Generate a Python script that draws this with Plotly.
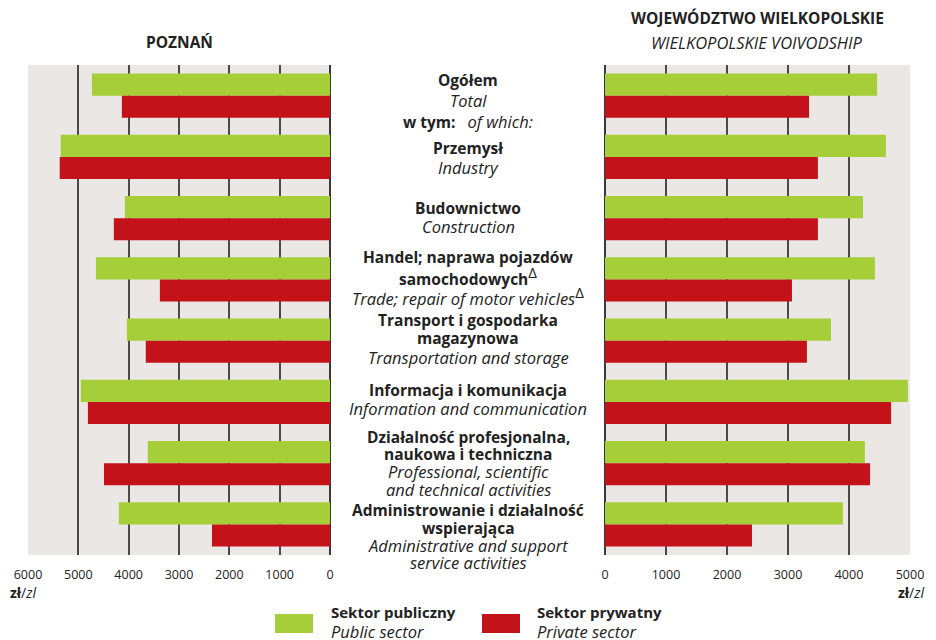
import plotly.graph_objects as go

W, H = 936, 640

categories = ["Ogółem", "Przemysł", "Budownictwo", "Handel", "Transport",
              "Informacja", "Profesjonalna", "Administrowanie"]

poznan_public = [4730, 5350, 4075, 4650, 4035, 4950, 3620, 4195]
poznan_private = [4135, 5370, 4295, 3380, 3660, 4810, 4490, 2345]
wlkp_public = [4460, 4605, 4230, 4425, 3705, 4965, 4260, 3900]
wlkp_private = [3345, 3490, 3490, 3065, 3310, 4690, 4345, 2410]

left_ticks = [6000, 5000, 4000, 3000, 2000, 1000, 0]
right_ticks = [0, 1000, 2000, 3000, 4000, 5000]

GREEN = "#a6ce39"
RED = "#c4121a"
BG = "#ebe7e4"
FONT = "Open Sans"
BOLD_SIZE = 15.5
ITAL_SIZE = 16.5

def px(x):
    return x / W

def py(y):
    return 1 - y / H

fig = go.Figure()
fig.add_trace(go.Bar(y=categories, x=poznan_public, orientation="h", marker_color=GREEN,
                     xaxis="x", yaxis="y", showlegend=False, marker_line_width=0))
fig.add_trace(go.Bar(y=categories, x=poznan_private, orientation="h", marker_color=RED,
                     xaxis="x", yaxis="y", showlegend=False, marker_line_width=0))
fig.add_trace(go.Bar(y=categories, x=wlkp_public, orientation="h", marker_color=GREEN,
                     xaxis="x2", yaxis="y", showlegend=False, marker_line_width=0))
fig.add_trace(go.Bar(y=categories, x=wlkp_private, orientation="h", marker_color=RED,
                     xaxis="x2", yaxis="y", showlegend=False, marker_line_width=0))

axis_common = dict(showgrid=True, gridcolor="#4a4a4a", gridwidth=1.5,
                   zeroline=True, zerolinecolor="#3a3a3a", zerolinewidth=1.5,
                   showline=False, ticks="", automargin=False,
                   tickfont=dict(family=FONT, size=12.5, color="#222"),
                   ticklabelstandoff=10)

fig.update_layout(
    width=W, height=H,
    margin=dict(l=0, r=0, t=0, b=0, pad=0, autoexpand=False),
    paper_bgcolor="white", plot_bgcolor=BG,
    barmode="group", bargap=0.28, bargroupgap=0,
    xaxis=dict(domain=[px(28), px(330)], range=[6000, 0], tickvals=left_ticks,
               anchor="y", **axis_common),
    xaxis2=dict(domain=[px(605), px(910)], range=[0, 5000], tickvals=right_ticks,
                anchor="y", **axis_common),
    yaxis=dict(domain=[py(555), py(65)], autorange="reversed", showticklabels=False,
               showgrid=False, zeroline=False, ticks="", anchor="x", automargin=False),
    font=dict(family=FONT, color="#222"),
)

ann = []

def text(x, y, s, size=15, xanchor="center", color="#222"):
    ann.append(dict(x=px(x), y=py(y), xref="paper", yref="paper", text=s,
                    showarrow=False, xanchor=xanchor, yanchor="middle",
                    font=dict(family=FONT, size=size, color=color)))

DELTA = "<sup><span style='font-style:normal;font-size:15px'>Δ</span></sup>"

CX = 468
bold_lines = [
    (80, "<b>Ogółem</b>"),
    (148, "<b>Przemysł</b>"),
    (208, "<b>Budownictwo</b>"),
    (257, "<b>Handel; naprawa pojazdów</b>"), (276, "<b>samochodowych</b>" + DELTA),
    (320, "<b>Transport i gospodarka</b>"), (338, "<b>magazynowa</b>"),
    (390, "<b>Informacja i komunikacja</b>"),
    (437, "<b>Działalność profesjonalna,</b>"), (454, "<b>naukowa i techniczna</b>"),
    (510, "<b>Administrowanie i działalność</b>"), (528, "<b>wspierająca</b>"),
]
ital_lines = [
    (100, "<i>Total</i>"),
    (167, "<i>Industry</i>"),
    (226, "<i>Construction</i>"),
    (296, "<i>Trade; repair of motor vehicles</i>" + DELTA),
    (357, "<i>Transportation and storage</i>"),
    (408, "<i>Information and communication</i>"),
    (471, "<i>Professional, scientific</i>"), (489, "<i>and technical activities</i>"),
    (545, "<i>Administrative and support</i>"), (562, "<i>service activities</i>"),
]
for y, s in bold_lines:
    text(CX, y, s, size=BOLD_SIZE)
for y, s in ital_lines:
    text(CX, y, s, size=ITAL_SIZE)
text(CX, 121, "<b>w tym:</b>   <span style='font-size:16.5px'><i>of which:</i></span>",
     size=BOLD_SIZE)

# titles
text(179, 42, "<b>POZNAŃ</b>", size=15.5)
text(757, 18, "<b>WOJEWÓDZTWO WIELKOPOLSKIE</b>", size=15.5)
text(757, 42, "<i>WIELKOPOLSKIE VOIVODSHIP</i>", size=16.5)

# units
text(8, 592, "<b>zł</b>/<i>zl</i>", size=14, xanchor="left")
text(926, 592, "<b>zł</b>/<i>zl</i>", size=14, xanchor="right")

# legend
text(329, 612, "<b>Sektor publiczny</b>", size=15, xanchor="left")
text(329, 631, "<i>Public sector</i>", size=16.5, xanchor="left")
text(535, 612, "<b>Sektor prywatny</b>", size=15, xanchor="left")
text(535, 631, "<i>Private sector</i>", size=16.5, xanchor="left")

fig.update_layout(annotations=ann, shapes=[
    dict(type="rect", xref="paper", yref="paper", x0=px(275), x1=px(313),
         y0=py(633), y1=py(614), fillcolor=GREEN, line_width=0),
    dict(type="rect", xref="paper", yref="paper", x0=px(482), x1=px(520),
         y0=py(633), y1=py(614), fillcolor=RED, line_width=0),
])

fig.write_html("out.html", config={"displayModeBar": False},
               post_script="document.body.style.margin='0';document.body.style.overflow='hidden';")
